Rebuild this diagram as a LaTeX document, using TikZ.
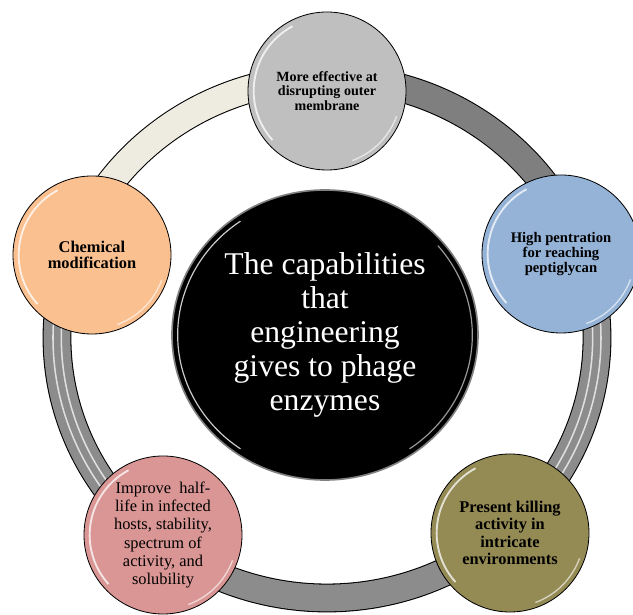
\documentclass[tikz,border=0pt]{standalone}
\usepackage{fontspec}
\setmainfont{Liberation Serif}
\usetikzlibrary{shapes.geometric}

\definecolor{ringcream}{HTML}{EEECE1}
\definecolor{ringdark}{HTML}{7F7F7F}
\definecolor{ringgray}{HTML}{8C8C8C}
\definecolor{capgray}{HTML}{BFBFBF}
\definecolor{capblue}{HTML}{95B3D7}
\definecolor{caporange}{HTML}{FAC090}
\definecolor{capolive}{HTML}{948A54}
\definecolor{cappink}{HTML}{D99694}

\tikzset{
  bubble/.style={circle, draw=black, line width=0.7pt, minimum size=4.74cm,
    inner sep=0pt, align=center,
    path picture={
      \draw[white, line width=1.6pt, opacity=.75]
        (path picture bounding box.center) ++(118:2.2cm)
        arc[start angle=118, end angle=222, radius=2.2cm];
      \draw[white, line width=1.2pt, opacity=.6]
        (path picture bounding box.center) ++(-70:2.22cm)
        arc[start angle=-70, end angle=-20, radius=2.22cm];
    }},
  hub/.style={ellipse, fill=black, draw=gray, line width=1.4pt,
    minimum width=9.18cm, minimum height=8.7cm, inner sep=0pt,
    align=center, text=white,
    path picture={
      \draw[white, line width=1pt, opacity=.8]
        (path picture bounding box.center) ++(125:4.42cm and 4.17cm)
        arc[start angle=125, end angle=235, x radius=4.42cm, y radius=4.17cm];
      \draw[white, line width=1pt, opacity=.6]
        (path picture bounding box.center) ++(-55:4.42cm and 4.17cm)
        arc[start angle=-55, end angle=40, x radius=4.42cm, y radius=4.17cm];
    }},
}

\begin{document}
\begin{tikzpicture}[x=0.03cm, y=0.03cm]
  \useasboundingbox (0,0) rectangle (633,615);
  \coordinate (ringc) at (327,277);

  \foreach \from/\to/\col in {160.5/90/ringcream, 90/19.7/ringdark,
      19.7/-46.8/ringgray, -46.8/-129.8/ringgray, -129.8/-199.5/ringgray} {
    \draw[black, line width=24.6pt] (ringc) ++(\from:8.1cm and 7.8cm)
      arc[start angle=\from, end angle=\to, x radius=8.1cm, y radius=7.8cm];
    \draw[\col, line width=22.8pt] (ringc) ++(\from:8.1cm and 7.8cm)
      arc[start angle=\from, end angle=\to, x radius=8.1cm, y radius=7.8cm];
  }
  \foreach \from/\to in {19.7/-46.8, -129.8/-199.5} {
    \foreach \d in {-0.13, 0.12} {
      \draw[white!75!gray, line width=1.3pt] (ringc) ++(\from:8.1cm+\d cm and 7.8cm+\d cm)
        arc[start angle=\from, end angle=\to, x radius=8.1cm+\d cm, y radius=7.8cm+\d cm];
    }
  }

  \node[hub, font=\fontsize{27}{29}\selectfont] (core) at (325,280)
    {The capabilities\\that\\engineering\\gives to phage\\enzymes};

  \node[bubble, fill=capgray, font=\bfseries\fontsize{12}{12.6}\selectfont] (membrane) at (327,524)
    {More effective at\\disrupting outer\\membrane};
  \node[bubble, fill=capblue, font=\bfseries\fontsize{12.5}{13}\selectfont] (peptido) at (561,361)
    {High pentration\\for reaching\\peptiglycan};
  \node[bubble, fill=capolive, font=\bfseries\fontsize{14}{15}\selectfont] (killing) at (510,82)
    {Present killing\\activity in\\intricate\\environments};
  \node[bubble, fill=cappink, font=\fontsize{14}{15.6}\selectfont] (halflife) at (163,80)
    {Improve~ half-\\life in infected\\hosts, stability,\\spectrum of\\activity, and\\solubility};
  \node[bubble, fill=caporange, font=\bfseries\fontsize{14}{14}\selectfont] (chemical) at (92,360)
    {Chemical\\modification};
\end{tikzpicture}
\end{document}
